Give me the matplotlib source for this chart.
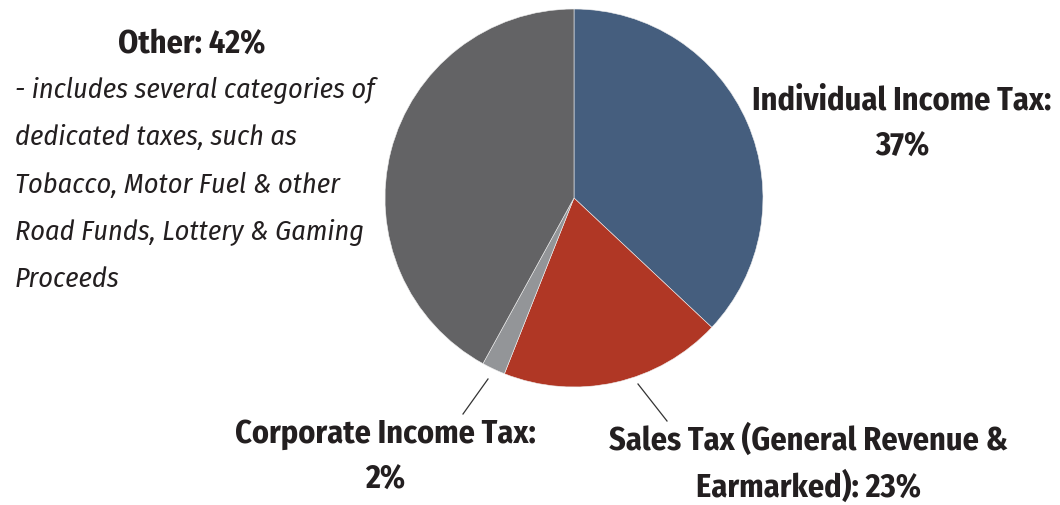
import matplotlib
matplotlib.use("Agg")
import matplotlib.pyplot as plt

# slice sizes as drawn (clockwise from 12 o'clock)
categories = ["Individual Income Tax", "Sales Tax", "Corporate Income Tax", "Other"]
shares = [37, 19, 2, 42]
colors = ["#455e7e", "#b03725", "#939598", "#636365"]

label_individual = ["Individual Income Tax:", "37%"]
label_sales = ["Sales Tax (General Revenue &", "Earmarked): 23%"]
label_corporate = ["Corporate Income Tax:", "2%"]
label_other = "Other: 42%"
other_note = ["- includes several categories of",
              "dedicated taxes, such as",
              "Tobacco, Motor Fuel & other",
              "Road Funds, Lottery & Gaming",
              "Proceeds"]

W, H = 1060, 505
FAMILY = ["Fira Sans Condensed", "DejaVu Sans"]
TXT = "#231f20"

fig = plt.figure(figsize=(W / 100, H / 100), dpi=100)
ax = fig.add_axes([0, 0, 1, 1])


def py(y):
    # pixel row (from top) -> data y
    return H - y


ax.pie(shares, colors=colors, startangle=90, counterclock=False,
       center=(574, py(198)), radius=189, frame=True,
       wedgeprops=dict(linewidth=0.4, edgecolor="#f0f0f0"))
ax.set_xlim(0, W)
ax.set_ylim(0, H)
ax.set_aspect("equal")
ax.axis("off")

bold = dict(family=FAMILY, fontweight="bold", fontsize=23.2, color=TXT,
            ha="center", va="baseline")
ital = dict(family=FAMILY, fontstyle="italic", fontsize=20.3, color=TXT,
            ha="left", va="baseline")

ax.text(192, py(53), label_other, **bold)
for i, line in enumerate(other_note):
    ax.text(15, py(98 + 47.3 * i), line, **ital)

ax.text(902, py(109), label_individual[0], **bold)
ax.text(902, py(156), label_individual[1], **bold)

ax.text(385, py(443), label_corporate[0], **bold)
ax.text(385, py(489), label_corporate[1], **bold)

ax.text(808, py(450), label_sales[0], **bold)
ax.text(808, py(497), label_sales[1], **bold)

# leader lines
ax.plot([488, 463], [py(379), py(414)], color="#333333", lw=0.9)
ax.plot([638, 667], [py(384), py(421)], color="#333333", lw=0.9)

fig.savefig("out.png", dpi=100, facecolor="white")
